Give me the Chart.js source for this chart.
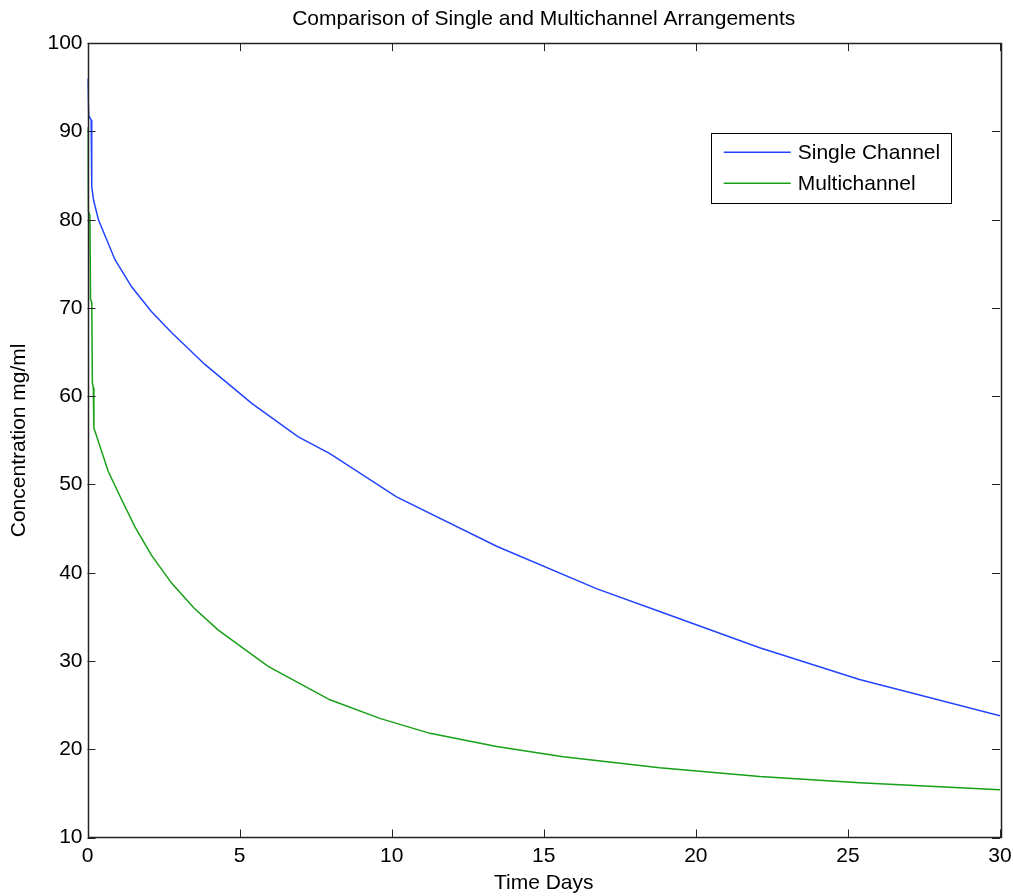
<!DOCTYPE html>
<html>
<head>
  <title>Comparison of Single and Multichannel Arrangements</title>
  <script src="https://cdn.jsdelivr.net/npm/chart.js"></script>
  <style>
    body { margin: 0; background: white; }
    canvas { display: block; }
  </style>
</head>
<body>
  <canvas id="chart" width="1013" height="896"></canvas>

  <script>
    // values
    const singleDays = [0, 0.04, 0.12, 0.14, 0.2, 0.36, 0.9, 1.45, 2.1, 2.77, 3.86, 5.4, 6.93, 7.97, 10.16, 13.45, 16.73, 18.81, 22.1, 25.38, 30];
    const singleConc = [96, 91.8, 91.3, 83.7, 82.2, 80, 75.5, 72.4, 69.6, 67.2, 63.6, 59.2, 55.4, 53.5, 48.6, 43, 38.2, 35.6, 31.5, 27.9, 23.8];

    const multiDays = [0, 0.02, 0.08, 0.1, 0.14, 0.16, 0.19, 0.21, 0.68, 1.12, 1.56, 2.1, 2.77, 3.5, 4.3, 5.94, 7.97, 9.61, 11.26, 13.45, 15.64, 18.81, 22.1, 25.38, 30];
    const multiConc = [90.5, 81, 80.5, 71, 70.6, 61.5, 61, 56.4, 51.5, 48.3, 45.2, 42, 38.8, 36, 33.5, 29.4, 25.6, 23.5, 21.8, 20.3, 19.15, 17.9, 16.9, 16.2, 15.4];

    const xTicks = [0, 5, 10, 15, 20, 25, 30];
    const yTicks = [10, 20, 30, 40, 50, 60, 70, 80, 90, 100];

    const seriesNames = ["Single Channel", "Multichannel"];
    const seriesColors = ["#2244ff", "#17a017"];

    const FONT = "'Liberation Sans', Arial, sans-serif";
    Chart.defaults.font.family = FONT;
    Chart.defaults.font.size = 21;
    Chart.defaults.color = "#000";

    const toPoints = (xs, ys) => xs.map((x, i) => ({ x: x, y: ys[i] }));

    // white page, box round the plot, ticks pointing inward on all four sides
    const matlabAxes = {
      id: "matlabAxes",
      beforeDraw(chart) {
        const ctx = chart.ctx;
        ctx.save();
        ctx.fillStyle = "white";
        ctx.fillRect(0, 0, chart.width, chart.height);
        ctx.restore();
      },
      afterDatasetsDraw(chart) {
        const { ctx, chartArea: a, scales } = chart;
        const len = 8;
        ctx.save();
        ctx.strokeStyle = "#222";
        ctx.lineWidth = 1;
        ctx.beginPath();
        xTicks.forEach(v => {
          const px = Math.round(scales.x.getPixelForValue(v)) + 0.5;
          ctx.moveTo(px, a.bottom); ctx.lineTo(px, a.bottom - len);
          ctx.moveTo(px, a.top); ctx.lineTo(px, a.top + len);
        });
        yTicks.forEach(v => {
          const py = Math.round(scales.y.getPixelForValue(v)) + 0.5;
          ctx.moveTo(a.left, py); ctx.lineTo(a.left + len, py);
          ctx.moveTo(a.right, py); ctx.lineTo(a.right - len, py);
        });
        ctx.stroke();
        ctx.lineWidth = 1.5;
        ctx.strokeRect(Math.round(a.left) + 0.5, Math.round(a.top) + 0.5,
                       Math.round(a.right - a.left), Math.round(a.bottom - a.top));
        ctx.restore();
      },
      afterDraw(chart) {
        // legend box in the upper right of the plot
        const ctx = chart.ctx;
        const a = chart.chartArea;
        const bx = a.left + (a.right - a.left) * 0.683;
        const by = a.top + 90;
        const bw = 240, bh = 70;
        ctx.save();
        ctx.fillStyle = "white";
        ctx.fillRect(bx, by, bw, bh);
        ctx.strokeStyle = "#000";
        ctx.lineWidth = 1;
        ctx.strokeRect(Math.round(bx) + 0.5, Math.round(by) + 0.5, bw, bh);
        ctx.font = "21px " + FONT;
        ctx.textBaseline = "middle";
        chart.data.datasets.forEach((ds, i) => {
          const ly = by + 19 + i * 31;
          ctx.strokeStyle = ds.borderColor;
          ctx.lineWidth = 1.5;
          ctx.beginPath();
          ctx.moveTo(bx + 13, ly);
          ctx.lineTo(bx + 80, ly);
          ctx.stroke();
          ctx.fillStyle = "#000";
          ctx.fillText(ds.label, bx + 87, ly + 1);
        });
        ctx.restore();
      }
    };

    const ctx = document.getElementById("chart").getContext("2d");
    new Chart(ctx, {
      type: "line",
      data: {
        datasets: [
          {
            label: seriesNames[0],
            data: toPoints(singleDays, singleConc),
            borderColor: seriesColors[0],
            borderWidth: 1.5,
            pointRadius: 0,
            tension: 0
          },
          {
            label: seriesNames[1],
            data: toPoints(multiDays, multiConc),
            borderColor: seriesColors[1],
            borderWidth: 1.5,
            pointRadius: 0,
            tension: 0
          }
        ]
      },
      options: {
        responsive: false,
        animation: false,
        layout: { padding: { top: 0, right: 13, bottom: 0, left: 0 } },
        plugins: {
          legend: { display: false },
          tooltip: { enabled: false },
          title: {
            display: true,
            fullSize: false,
            text: "Comparison of Single and Multichannel Arrangements",
            font: { size: 21, weight: "normal" },
            color: "#000",
            padding: { top: 7, bottom: 11 }
          }
        },
        scales: {
          x: {
            type: "linear",
            min: 0,
            max: 30,
            grid: { display: false, drawTicks: false },
            border: { display: false },
            afterBuildTicks: s => { s.ticks = xTicks.map(v => ({ value: v })); },
            ticks: { padding: 6, maxRotation: 0 },
            title: { display: true, text: "Time Days", padding: { top: 0, bottom: 0 } },
            afterFit: s => { s.height = 58.5; s.paddingRight = 0; s.paddingLeft = 0; }
          },
          y: {
            min: 10,
            max: 100,
            grid: { display: false, drawTicks: false },
            border: { display: false },
            afterBuildTicks: s => { s.ticks = yTicks.map(v => ({ value: v })); },
            ticks: { padding: 5 },
            title: { display: true, text: "Concentration mg/ml", padding: { top: 7, bottom: 0 } },
            afterFit: s => { s.width = 87.5; s.paddingTop = 0; s.paddingBottom = 0; }
          }
        }
      },
      plugins: [matlabAxes]
    });
  </script>
</body>
</html>
